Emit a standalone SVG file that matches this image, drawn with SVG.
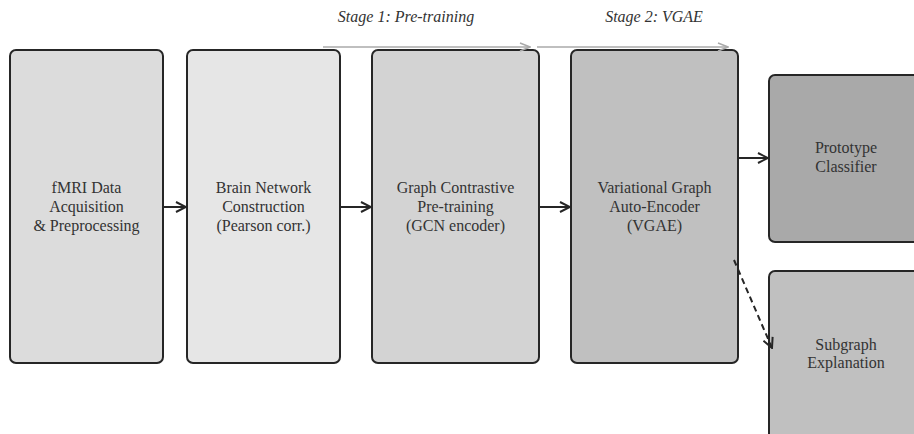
<svg xmlns="http://www.w3.org/2000/svg" width="914" height="434" viewBox="0 0 914 434">
<style>
.box{stroke:#262626;stroke-width:2}
.c{stroke:#262626;stroke-width:2;fill:none}
.g{stroke:#aaa;stroke-width:1.5;fill:none}
</style>
<defs>
<marker id="ah" viewBox="0 0 12 12" refX="11" refY="6" markerWidth="12" markerHeight="12" markerUnits="userSpaceOnUse" orient="auto">
<path d="M1,1 L11,6 L1,11" fill="none" stroke="#262626" stroke-width="2"/>
</marker>
<marker id="ahg" viewBox="0 0 12 12" refX="11" refY="6" markerWidth="12" markerHeight="12" markerUnits="userSpaceOnUse" orient="auto">
<path d="M1,2 L11,6 L1,10" fill="none" stroke="#aaa" stroke-width="1.5"/>
</marker>
</defs>
<rect width="914" height="434" fill="#fff"/>
<g font-family="Liberation Serif, Times New Roman, Times, serif" font-size="16" fill="#333" text-anchor="middle">
<g font-style="italic">
<text x="406" y="22">Stage 1: Pre-training</text>
<text x="654" y="22">Stage 2: VGAE</text>
</g>
<g id="n1"><rect class="box" x="10" y="50" width="153" height="313" rx="6" fill="#dcdcdc"/>
<text x="86.5" y="193">fMRI Data</text><text x="86.5" y="212">Acquisition</text><text x="86.5" y="231">&amp; Preprocessing</text></g>
<g id="n2"><rect class="box" x="187" y="50" width="153" height="313" rx="6" fill="#e6e6e6"/>
<text x="263.5" y="193">Brain Network</text><text x="263.5" y="212">Construction</text><text x="263.5" y="231">(Pearson corr.)</text></g>
<g id="n3"><rect class="box" x="372" y="50" width="167" height="313" rx="6" fill="#d3d3d3"/>
<text x="455.5" y="193">Graph Contrastive</text><text x="455.5" y="212">Pre-training</text><text x="455.5" y="231">(GCN encoder)</text></g>
<g id="n4"><rect class="box" x="571" y="50" width="167" height="313" rx="6" fill="#c0c0c0"/>
<text x="654.5" y="193">Variational Graph</text><text x="654.5" y="212">Auto-Encoder</text><text x="654.5" y="231">(VGAE)</text></g>
<g id="n5"><rect class="box" x="769" y="75" width="160" height="167" rx="6" fill="#a9a9a9"/>
<text x="846" y="153">Prototype</text><text x="846" y="172">Classifier</text></g>
<g id="n6"><rect class="box" x="769" y="271" width="160" height="175" rx="6" fill="#c0c0c0"/>
<text x="846" y="350">Subgraph</text><text x="846" y="368">Explanation</text></g>
</g>
<g id="connectors">
<line class="g" x1="323" y1="47" x2="530" y2="47" marker-end="url(#ahg)"/>
<line class="g" x1="537" y1="47" x2="728" y2="47" marker-end="url(#ahg)"/>
<line class="c" x1="163" y1="207" x2="186" y2="207" marker-end="url(#ah)"/>
<line class="c" x1="340" y1="207" x2="371" y2="207" marker-end="url(#ah)"/>
<line class="c" x1="539" y1="207" x2="570" y2="207" marker-end="url(#ah)"/>
<line class="c" x1="738" y1="158" x2="768" y2="158" marker-end="url(#ah)"/>
<line class="c" x1="734" y1="260" x2="772" y2="348" stroke-dasharray="6,4" marker-end="url(#ah)"/>
</g>
</svg>
